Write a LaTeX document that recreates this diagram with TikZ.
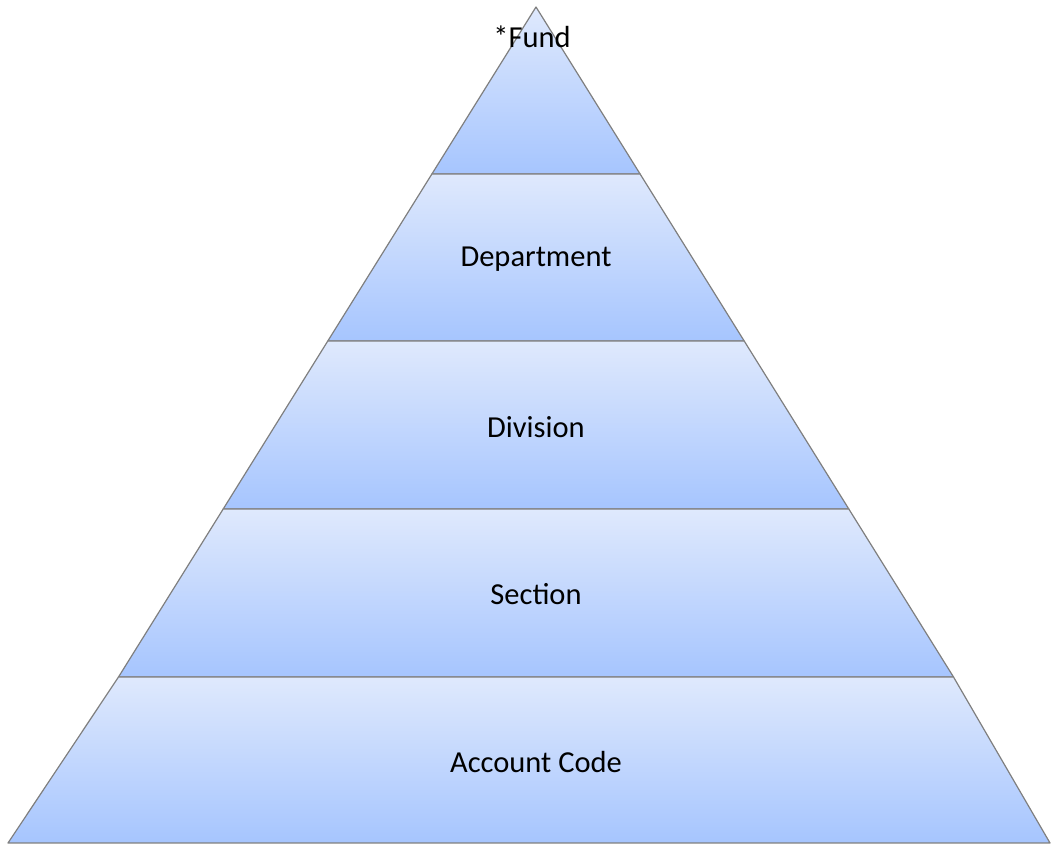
\documentclass[tikz,border=0pt]{standalone}
\usepackage{fontspec}
\setmainfont{Carlito}
\begin{document}
\begin{tikzpicture}[x=1pt,y=1pt,
  layer/.style={top color=lighttop,bottom color=darkbot,draw=edgegray,line width=1.2pt,line join=round},
  lbl/.style={font=\fontsize{30.5}{36}\selectfont,text=black,inner sep=0pt}]
\definecolor{lighttop}{HTML}{DFE9FD}
\definecolor{darkbot}{HTML}{A6C5FE}
\definecolor{edgegray}{HTML}{7F7F7F}
\useasboundingbox (0,0) rectangle (1055,846);
% apex and boundary coordinates (y measured from bottom)
\coordinate (A) at (536,839);
\coordinate (L1) at (431.9,672); \coordinate (R1) at (640.1,672);
\coordinate (L2) at (327.8,505); \coordinate (R2) at (744.2,505);
\coordinate (L3) at (223.2,337); \coordinate (R3) at (848.8,337);
\coordinate (L4) at (118.5,169); \coordinate (R4) at (953.5,169);
\coordinate (L5) at (8,3); \coordinate (R5) at (1050,3);
\path[layer] (A) -- (R1) -- (L1) -- cycle;
\path[layer] (L1) -- (R1) -- (R2) -- (L2) -- cycle;
\path[layer] (L2) -- (R2) -- (R3) -- (L3) -- cycle;
\path[layer] (L3) -- (R3) -- (R4) -- (L4) -- cycle;
\path[layer] (L4) -- (R4) -- (R5) -- (L5) -- cycle;
\node[lbl] (fund) at (532,809) {*Fund};
\node[lbl] (dept) at (536,587) {Department};
\node[lbl] (div) at (536,419) {Division};
\node[lbl] (sec) at (536,252) {Section};
\node[lbl] (acc) at (536,84) {Account Code};
\end{tikzpicture}
\end{document}
